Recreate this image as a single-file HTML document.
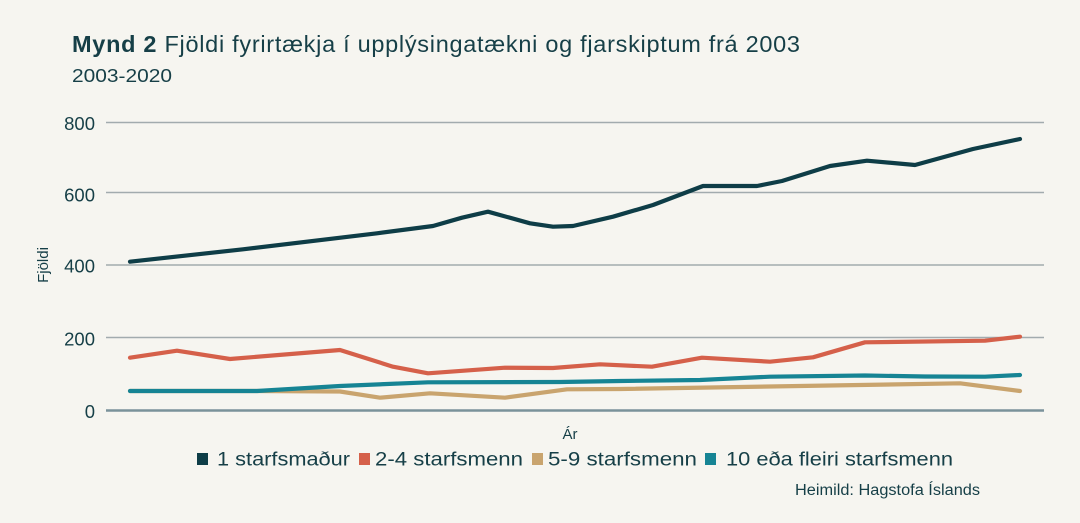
<!DOCTYPE html>
<html>
<head>
<meta charset="utf-8">
<style>
  html,body{margin:0;padding:0;background:#f6f5f0;}
  svg{display:block;}
  text{font-family:"Liberation Sans",Arial,sans-serif;fill:#163f47;}
</style>
</head>
<body>
<svg width="1080" height="523" viewBox="0 0 1080 523" xmlns="http://www.w3.org/2000/svg">
  <rect x="0" y="0" width="1080" height="523" fill="#f6f5f0"/>

  <!-- Title -->
  <text x="72" y="52" font-size="23.5" textLength="728" lengthAdjust="spacing"><tspan font-weight="bold">Mynd 2</tspan> Fjöldi fyrirtækja í upplýsingatækni og fjarskiptum frá 2003</text>
  <text x="72" y="82" font-size="18.5" textLength="100" lengthAdjust="spacingAndGlyphs">2003-2020</text>

  <!-- Grid -->
  <g stroke="#a2abae" stroke-width="1.5">
    <line x1="106" y1="122.5" x2="1044" y2="122.5"/>
    <line x1="106" y1="192.5" x2="1044" y2="192.5"/>
    <line x1="106" y1="265" x2="1044" y2="265"/>
    <line x1="106" y1="337.5" x2="1044" y2="337.5"/>
  </g>
  <line x1="106" y1="410.5" x2="1044" y2="410.5" stroke="#7a929a" stroke-width="2.5"/>

  <!-- Y tick labels -->
  <g font-size="18.5" text-anchor="end">
    <text x="95" y="130">800</text>
    <text x="95" y="201.5">600</text>
    <text x="95" y="272.5">400</text>
    <text x="95" y="345.5">200</text>
    <text x="95" y="418">0</text>
  </g>
  <text transform="translate(48,265) rotate(-90)" font-size="15" text-anchor="middle">Fjöldi</text>

  <!-- Series -->
  <g fill="none" stroke-width="4.2" stroke-linejoin="round" stroke-linecap="round">
    <polyline stroke="#0e3d47" points="130,261.7 243,249.3 377,233.3 433,226 462,217.7 488,211.7 530,223.3 553,226.7 573,226 613,216.7 653,205 703,186 757,186 782,181 830,166 867,160.7 915,165 973,149 1020,139"/>
    <polyline stroke="#d5604a" points="130,357.7 177,350.7 230,359 340,350 393,366.7 428,373.3 505,367.7 553,368 600,364.3 652,366.7 702,357.7 770,361.7 813,357.3 865,342.3 985,340.7 1020,336.7"/>
    <polyline stroke="#c9a46e" points="130,391 257,391 340,391.5 380,397.7 430,393.3 505,397.7 567,389.3 620,389 960,383.3 1020,391"/>
    <polyline stroke="#168494" points="130,391 257,391 340,386 428,382.3 560,382 620,381 700,380 770,376.7 865,375.5 925,376.5 985,376.7 1020,375"/>
  </g>

  <!-- X axis title -->
  <text x="570" y="439" font-size="15" text-anchor="middle">Ár</text>

  <!-- Legend -->
  <rect x="197" y="453" width="11" height="12" fill="#0e3d47"/>
  <text x="217" y="465.5" font-size="19" textLength="133" lengthAdjust="spacingAndGlyphs">1 starfsmaður</text>
  <rect x="359" y="453" width="11" height="12" fill="#d5604a"/>
  <text x="375" y="465.5" font-size="19" textLength="148" lengthAdjust="spacingAndGlyphs">2-4 starfsmenn</text>
  <rect x="532" y="453" width="11" height="12" fill="#c9a46e"/>
  <text x="548" y="465.5" font-size="19" textLength="149" lengthAdjust="spacingAndGlyphs">5-9 starfsmenn</text>
  <rect x="705" y="453" width="11" height="12" fill="#168494"/>
  <text x="726" y="465.5" font-size="19" textLength="227" lengthAdjust="spacingAndGlyphs">10 eða fleiri starfsmenn</text>

  <!-- Source -->
  <text x="795" y="495" font-size="15.5" textLength="185" lengthAdjust="spacingAndGlyphs">Heimild: Hagstofa Íslands</text>
</svg>
</body>
</html>
